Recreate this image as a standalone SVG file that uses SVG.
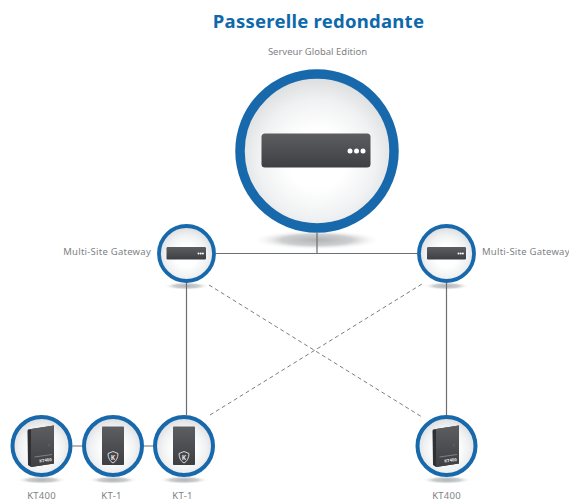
<svg xmlns="http://www.w3.org/2000/svg" width="569" height="500" viewBox="0 0 569 500">
<style>
.t{font-family:"Noto Sans","Open Sans","Liberation Sans",sans-serif;fill:#808285}
.l{font-size:9.5px;letter-spacing:.25px}
.title{font-family:"Noto Sans","Open Sans","Liberation Sans",sans-serif;font-size:18.5px;font-weight:700;fill:#0e69ab;letter-spacing:.25px}
.ring{fill:url(#face);stroke:#1769ac}
.c{fill:none;stroke:#6d6e71;stroke-width:1.2}
.d{stroke-dasharray:4 3;stroke-width:.9}
.dev{fill:url(#metal)}
.dot{fill:#fff}
</style>
<defs>
<radialGradient id="face" cx=".5" cy=".55" r=".55"><stop offset=".35" stop-color="#fff"/><stop offset=".7" stop-color="#f0f1f2"/><stop offset="1" stop-color="#d8dadc"/></radialGradient>
<radialGradient id="sh" cx=".5" cy=".5" r=".5"><stop offset="0" stop-color="#b1b3b5"/><stop offset=".55" stop-color="#cdcfd0"/><stop offset="1" stop-color="#fff" stop-opacity="0"/></radialGradient>
<linearGradient id="metal" x1="0" y1="0" x2="0" y2="1"><stop offset="0" stop-color="#5d5e62"/><stop offset="1" stop-color="#3e3f43"/></linearGradient>
<g id="kt400">
<path d="M-14-17-13.500-18.500 12.500-22.500V15.500L-10.500 19-13.500 17Z" fill="#2f3034"/>
<path d="M-10.500-19 12.500-22.500V15.500L-10.500 19Z" fill="url(#metal)"/>
<path d="M-7 9 10.500 6.500" stroke="#bbb" stroke-width=".5"/>
<text x="-2" y="14.500" class="t" transform="rotate(-7 -2 14.500)" style="font-size:4.200px;font-weight:700;fill:#e6e7e8">KT400</text>
<circle cx="7.500" cy="-3" r=".6" fill="#888"/>
</g>
<g id="kt1">
<rect x="-11" y="-19.500" width="22" height="38.500" rx=".8" fill="url(#metal)"/>
<path d="M0 5.500 5 7.500C5 12 3 15.500 0 17-3 15.500-5 12-5 7.500Z" fill="none" stroke="#e6e7e8" stroke-width=".9"/>
<text x="0" y="13.800" text-anchor="middle" style="font-family:'Noto Sans',sans-serif;font-size:6.500px;font-weight:700;fill:#e6e7e8">K</text>
</g>
</defs>

<text x="318.500" y="28" text-anchor="middle" class="title">Passerelle redondante</text>

<g id="server">
<text x="317.500" y="55" text-anchor="middle" class="t" style="font-size:9.500px">Serveur Global Edition</text>
<ellipse cx="317" cy="240" rx="65" ry="10" fill="url(#sh)"/>
<circle class="ring" cx="317" cy="151" r="77" stroke-width="9.500"/>
<rect class="dev" x="261.500" y="133.500" width="109" height="34" rx="3.500"/>
<circle class="dot" cx="350" cy="151" r="2.500"/><circle class="dot" cx="356.500" cy="151" r="2.500"/><circle class="dot" cx="363" cy="151" r="2.500"/>
</g>

<g id="gateway-left">
<text x="151" y="255" text-anchor="end" class="t l">Multi-Site Gateway</text>
<ellipse cx="186.500" cy="286" rx="23" ry="4" fill="url(#sh)"/>
<circle class="ring" cx="186.500" cy="253.500" r="27.500" stroke-width="3.800"/>
<rect class="dev" x="166.500" y="247" width="39.500" height="12.500" rx="1.200"/>
<circle class="dot" cx="198.500" cy="253.500" r="1"/><circle class="dot" cx="200.700" cy="253.500" r="1"/><circle class="dot" cx="202.900" cy="253.500" r="1"/>
</g>

<g id="gateway-right">
<text x="482" y="255" class="t l">Multi-Site Gateway</text>
<ellipse cx="446.500" cy="286" rx="23" ry="4" fill="url(#sh)"/>
<circle class="ring" cx="446.500" cy="253.500" r="27.500" stroke-width="3.800"/>
<rect class="dev" x="427" y="247" width="39" height="12.500" rx="1.200"/>
<circle class="dot" cx="458.500" cy="253.500" r="1"/><circle class="dot" cx="460.700" cy="253.500" r="1"/><circle class="dot" cx="462.900" cy="253.500" r="1"/>
</g>

<g id="kt400-left">
<ellipse cx="41.500" cy="480" rx="25" ry="4" fill="url(#sh)"/>
<circle class="ring" cx="41.500" cy="446" r="29" stroke-width="4"/>
<use href="#kt400" x="41.500" y="448"/>
<text x="41.500" y="498.500" text-anchor="middle" class="t l">KT400</text>
</g>
<g id="kt1-a">
<ellipse cx="113" cy="480" rx="25" ry="4" fill="url(#sh)"/>
<circle class="ring" cx="113" cy="446" r="29" stroke-width="4"/>
<use href="#kt1" x="113" y="446"/>
<text x="111.500" y="498.500" text-anchor="middle" class="t l">KT-1</text>
</g>
<g id="kt1-b">
<ellipse cx="184" cy="480" rx="25" ry="4" fill="url(#sh)"/>
<circle class="ring" cx="184" cy="446" r="29" stroke-width="4"/>
<use href="#kt1" x="184" y="446"/>
<text x="182.500" y="498.500" text-anchor="middle" class="t l">KT-1</text>
</g>
<g id="kt400-right">
<ellipse cx="446.500" cy="480" rx="25" ry="4" fill="url(#sh)"/>
<circle class="ring" cx="446.500" cy="446" r="29" stroke-width="4"/>
<use href="#kt400" x="446.500" y="448"/>
<text x="446.500" y="498.500" text-anchor="middle" class="t l">KT400</text>
</g>

<g id="connectors">
<path class="c" d="M317 233V253.500M216 253.500H417M186.500 283V415M446.500 283V415M72.500 446H82M144 446H153"/>
<path class="c d" d="M209 285 422 417M210 415 422 284"/>
</g>
</svg>
